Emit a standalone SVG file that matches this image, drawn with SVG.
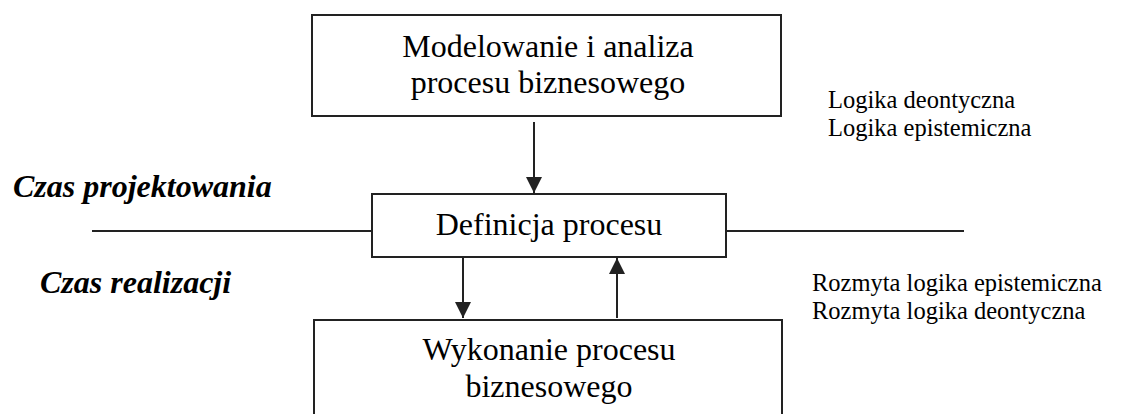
<svg xmlns="http://www.w3.org/2000/svg" width="1129" height="414" viewBox="0 0 1129 414">
<style>
.box{fill:#fff;stroke:#222;stroke-width:2}
.ln{stroke:#222;stroke-width:2;fill:none}
.t{font-family:"Liberation Serif","Times New Roman",serif;fill:#000}
.big{font-size:32px;text-anchor:middle}
.small{font-size:24.5px}
.lab{font-size:32px;font-weight:bold;font-style:italic}
</style>
<defs>
<marker id="ah" markerWidth="16" markerHeight="16" refX="16" refY="8" orient="auto" markerUnits="userSpaceOnUse">
<path d="M0,0 L16,8 L0,16 Z" fill="#222"/>
</marker>
</defs>
<g id="connectors">
<line class="ln" x1="92" y1="231" x2="372" y2="231"/>
<line class="ln" x1="726" y1="231" x2="964" y2="231"/>
<line class="ln" x1="534" y1="122" x2="534" y2="193" marker-end="url(#ah)"/>
<line class="ln" x1="463" y1="258" x2="463" y2="318" marker-end="url(#ah)"/>
<line class="ln" x1="617" y1="318" x2="617" y2="258" marker-end="url(#ah)"/>
</g>
<g id="node-modelowanie">
<rect class="box" x="312" y="15" width="469" height="101"/>
<text class="t big" x="548" y="57">Modelowanie i analiza</text>
<text class="t big" x="548" y="93">procesu biznesowego</text>
</g>
<g id="node-definicja">
<rect class="box" x="372" y="194" width="354" height="63"/>
<text class="t big" x="549" y="235">Definicja procesu</text>
</g>
<g id="node-wykonanie">
<rect class="box" x="314" y="320" width="468" height="110"/>
<text class="t big" x="549" y="360">Wykonanie procesu</text>
<text class="t big" x="549" y="397">biznesowego</text>
</g>
<g id="labels">
<text class="t small" x="828" y="108">Logika deontyczna</text>
<text class="t small" x="828" y="136">Logika epistemiczna</text>
<text class="t small" x="812" y="291">Rozmyta logika epistemiczna</text>
<text class="t small" x="812" y="319">Rozmyta logika deontyczna</text>
<text class="t lab" x="13" y="197">Czas projektowania</text>
<text class="t lab" x="40" y="293">Czas realizacji</text>
</g>
</svg>
